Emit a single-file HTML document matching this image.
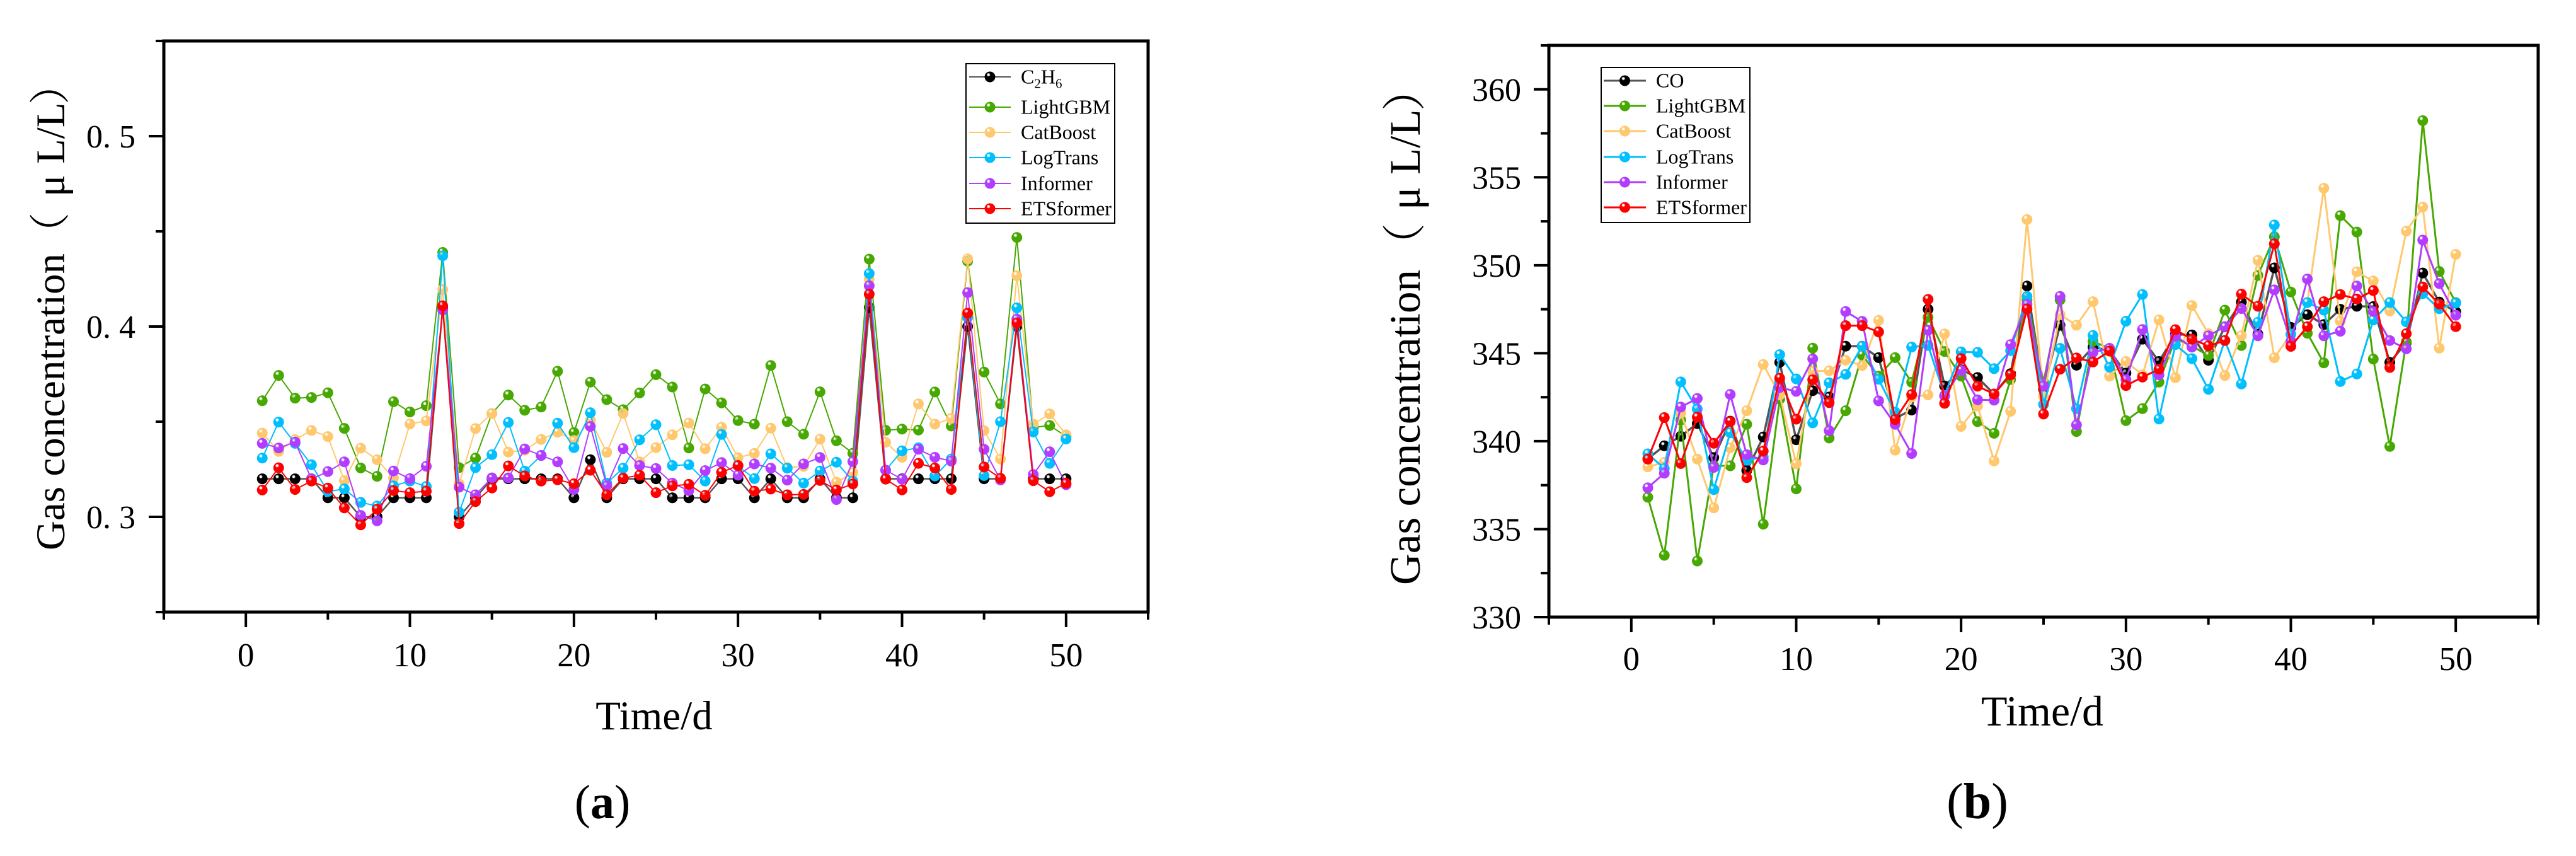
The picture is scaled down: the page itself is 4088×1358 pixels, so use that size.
<!DOCTYPE html>
<html lang="en">
<head>
<meta charset="utf-8">
<title>Gas concentration forecasts</title>
<style>
html,body{margin:0;padding:0;background:#fff;width:4088px;height:1358px;overflow:hidden}
svg{display:block;font-family:"Liberation Serif","Noto Serif CJK SC",serif}
</style>
</head>
<body>
<svg id="figure" xmlns="http://www.w3.org/2000/svg" width="4088" height="1358" viewBox="0 0 4088 1358">
<rect width="4088" height="1358" fill="#fff"/>
<defs id="defs"></defs>
</svg>
<script>
const days = [1,2,3,4,5,6,7,8,9,10,11,12,13,14,15,16,17,18,19,20,21,22,23,24,25,26,27,28,29,30,31,32,33,34,35,36,37,38,39,40,41,42,43,44,45,46,47,48,49,50];

const seriesNames = ['LightGBM','CatBoost','LogTrans','Informer','ETSformer'];

const aEthane = [.32,.32,.32,.32,.31,.31,.30,.30,.31,.31,.31,.41,.30,.31,.32,.32,.32,.32,.32,.31,.33,.31,.32,.32,.32,.31,.31,.31,.32,.32,.31,.32,.31,.31,.32,.31,.31,.41,.32,.32,.32,.32,.32,.40,.32,.32,.40,.32,.32,.32];
const aLightGBM = [.3610,.3743,.3624,.3627,.3652,.3465,.3257,.3213,.3605,.3551,.3584,.4389,.3259,.3309,.3543,.3640,.3560,.3577,.3765,.3443,.3708,.3616,.3563,.3651,.3747,.3682,.3362,.3672,.3599,.3506,.3487,.3795,.3500,.3434,.3657,.3400,.3334,.4354,.3455,.3461,.3456,.3656,.3477,.4343,.3761,.3593,.4468,.3470,.3480,.3423];
const aCatBoost = [.3440,.3344,.3406,.3454,.3422,.3190,.3361,.3300,.3204,.3488,.3504,.4194,.3173,.3464,.3543,.3340,.3350,.3407,.3445,.3401,.3508,.3339,.3543,.3289,.3364,.3431,.3493,.3358,.3471,.3311,.3333,.3466,.3259,.3265,.3408,.3182,.3232,.4249,.3392,.3313,.3593,.3487,.3517,.4355,.3453,.3304,.4267,.3487,.3541,.3431];
const aLogTrans = [.3309,.3498,.3386,.3274,.3133,.3147,.3076,.3057,.3163,.3188,.3160,.4372,.3025,.3259,.3327,.3496,.3240,.3322,.3492,.3364,.3547,.3177,.3256,.3405,.3484,.3270,.3274,.3188,.3433,.3267,.3201,.3331,.3256,.3177,.3241,.3287,.3188,.4278,.3245,.3347,.3363,.3215,.3304,.4048,.3217,.3500,.4098,.3446,.3281,.3409];
const aInformer = [.3386,.3362,.3393,.3199,.3238,.3289,.3008,.2979,.3241,.3201,.3266,.4087,.3156,.3116,.3205,.3205,.3357,.3323,.3289,.3144,.3475,.3163,.3359,.3270,.3254,.3177,.3138,.3243,.3285,.3219,.3278,.3256,.3193,.3278,.3312,.3091,.3290,.4214,.3245,.3198,.3355,.3313,.3293,.4178,.3355,.3194,.4039,.3223,.3342,.3169];
const aETSformer = [.3141,.3258,.3144,.3188,.3151,.3047,.2958,.3040,.3138,.3127,.3135,.4109,.2965,.3080,.3152,.3268,.3215,.3188,.3195,.3174,.3245,.3116,.3204,.3219,.3127,.3163,.3171,.3113,.3234,.3270,.3135,.3146,.3116,.3118,.3191,.3141,.3173,.4170,.3198,.3142,.3281,.3257,.3144,.4070,.3262,.3203,.4019,.3190,.3132,.3176];

const bCO = [339.0,339.74,340.28,341.0,339.07,341.14,338.33,340.24,344.48,340.08,342.87,342.51,345.40,345.40,344.75,341.3,341.77,347.5,343.14,344.06,343.62,342.68,343.84,348.82,342.95,346.59,344.32,345.35,345.15,343.87,345.8,344.53,346.07,346.04,344.6,346.5,347.91,346.08,349.85,346.47,347.19,346.63,347.5,347.67,347.65,344.48,345.6,349.56,347.91,347.36];
const bLightGBM = [336.81,333.51,341.2,333.19,338.6,338.6,340.96,335.28,342.39,337.29,345.29,340.18,341.73,344.9,343.7,344.75,343.35,347.05,345.1,343.7,341.11,340.45,343.5,348.03,343.36,348.03,340.55,345.67,345.28,341.17,341.85,343.36,345.83,345.4,344.87,347.45,345.44,349.42,351.62,348.48,346.13,344.45,352.82,351.89,344.67,339.7,345.65,358.22,349.65,347.88];
const bCatBoost = [338.54,338.8,341.6,338.98,336.21,339.62,341.73,344.36,342.63,338.71,343.98,344.0,344.6,344.3,346.87,339.49,342.51,342.63,346.1,340.84,342.0,338.88,341.7,352.6,342.54,347.2,346.59,347.93,343.7,344.53,343.77,346.89,343.61,347.71,346.11,343.73,346.0,350.28,344.74,346.08,347.88,354.38,346.82,349.63,349.11,347.4,351.94,353.31,345.29,350.62];
const bLogTrans = [339.28,338.45,343.37,341.83,337.25,340.48,338.92,339.1,344.92,343.54,341.04,343.32,343.8,345.4,343.52,341.65,345.35,345.44,342.6,345.08,345.05,344.12,345.15,348.23,342.09,345.28,341.85,346.01,344.21,346.82,348.34,341.26,345.49,344.69,342.95,345.73,343.25,346.76,352.29,346.08,347.88,347.45,343.39,343.82,346.89,347.88,346.78,348.39,347.53,347.85];
const bInformer = [337.35,338.18,341.94,342.43,338.51,342.66,339.23,338.93,343.05,342.83,344.68,340.6,347.37,346.81,342.29,340.96,339.3,346.31,342.57,344.03,342.35,342.33,345.49,347.78,343.13,348.23,340.92,345.05,345.28,343.5,346.35,343.77,345.97,345.35,345.99,346.51,347.54,345.99,348.6,345.68,349.22,345.99,346.25,348.82,347.37,345.72,345.25,351.43,348.96,347.16];
const bETSformer = [338.98,341.34,338.73,341.37,339.88,341.11,337.93,339.44,343.58,341.25,343.49,342.19,346.57,346.57,346.21,341.23,342.65,348.06,342.15,344.7,343.13,342.68,343.77,347.52,341.54,344.09,344.73,344.5,345.12,343.16,343.64,344.09,346.34,345.79,345.42,345.72,348.36,347.67,351.22,345.39,346.51,347.93,348.34,348.08,348.56,344.19,346.11,348.77,347.79,346.51];

const xMajorTicks = [0,10,20,30,40,50];
const xMinorTicks = [-5,5,15,25,35,45,55];
const aYMajorTicks = [0.3,0.4,0.5];
const aYMinorTicks = [0.25,0.35,0.45,0.55];
const aYTickLabels = ['0. 3','0. 4','0. 5'];
const bYMajorTicks = [330,335,340,345,350,355,360];
const bYMinorTicks = [332.5,337.5,342.5,347.5,352.5,357.5,362.5];
const bYTickLabels = ['330','335','340','345','350','355','360'];

const SVGNS = 'http://www.w3.org/2000/svg';
const root = document.getElementById('figure');
const defs = document.getElementById('defs');

const palette = [
  {key:'black', fill:'#000000', line:'#555555'},
  {key:'green', fill:'#46A800', line:'#46A800'},
  {key:'orange', fill:'#FFC86E', line:'#FFC86E'},
  {key:'cyan', fill:'#00BFFF', line:'#00BFFF'},
  {key:'purple', fill:'#B23CFF', line:'#B23CFF'},
  {key:'red', fill:'#FF0000', line:'#FF0000'}
];

function make(tag, parent, props, text) {
  const el = document.createElementNS(SVGNS, tag);
  for (const k in props) el.setAttribute(k, props[k]);
  if (text !== undefined) el.textContent = text;
  parent.appendChild(el);
  return el;
}

palette.forEach(function (c) {
  const g = make('radialGradient', defs, {id: 'ball-' + c.key, cx: '0.38', cy: '0.32', r: '0.68', fx: '0.36', fy: '0.3'});
  make('stop', g, {offset: '0', 'stop-color': '#ffffff', 'stop-opacity': c.key === 'black' ? '0.6' : '0.8'});
  make('stop', g, {offset: '0.1', 'stop-color': '#ffffff', 'stop-opacity': c.key === 'black' ? '0.3' : '0.4'});
  make('stop', g, {offset: '0.26', 'stop-color': c.fill});
  make('stop', g, {offset: '1', 'stop-color': c.fill});
});

function drawChart(cfg) {
  const group = make('g', root, {});
  
  

  const xScale = function (v) { return cfg.x0 + (v - (-5)) * (cfg.x1 - cfg.x0) / 60; };
  const yScale = function (v) { return cfg.y0 - (v - cfg.yMin) * (cfg.y0 - cfg.y1) / (cfg.yMax - cfg.yMin); };

  cfg.series.forEach(function (vals, si) {
    const c = palette[si];
    const pts = days.map(function (d, i) { return xScale(d).toFixed(1) + ',' + yScale(vals[i]).toFixed(1); }).join(' ');
    const line = make('polyline', group, {points: pts, fill: 'none', stroke: c.line, 'stroke-width': cfg.lineWidth + (si === 0 ? 0.5 : 0), 'stroke-linejoin': 'miter'});
    
    
    days.forEach(function (d, i) {
      const dot = make('circle', group, {cx: xScale(d).toFixed(1), cy: yScale(vals[i]).toFixed(1), r: 8.5, fill: 'url(#ball-' + c.key + ')'});
      
      
    });
  });

  const frame = make('rect', group, {x: cfg.x0, y: cfg.y1, width: cfg.x1 - cfg.x0, height: cfg.y0 - cfg.y1, fill: 'none', stroke: '#000', 'stroke-width': 5});
  
  

  xMajorTicks.forEach(function (t) {
    const tick = make('line', group, {x1: xScale(t), x2: xScale(t), y1: cfg.y0, y2: cfg.y0 + 24, stroke: '#000', 'stroke-width': 4});
    
    
    const label = make('text', group, {x: xScale(t), y: cfg.xLabelY, 'text-anchor': 'middle', 'font-size': 53, fill: '#000'}, String(t));
    
    
  });
  xMinorTicks.forEach(function (t) {
    const tick = make('line', group, {x1: xScale(t), x2: xScale(t), y1: cfg.y0, y2: cfg.y0 + 12, stroke: '#000', 'stroke-width': 4});
    
    
  });
  cfg.yMajor.forEach(function (t, i) {
    const tick = make('line', group, {x1: cfg.x0 - 24, x2: cfg.x0, y1: yScale(t), y2: yScale(t), stroke: '#000', 'stroke-width': 4});
    
    
    const label = make('text', group, {x: cfg.yLabelX, y: yScale(t) + 18, 'text-anchor': 'end', 'font-size': 52, fill: '#000', 'xml:space': 'preserve'}, cfg.yLabels[i]);
    
    
  });
  cfg.yMinor.forEach(function (t) {
    const tick = make('line', group, {x1: cfg.x0 - 13, x2: cfg.x0, y1: yScale(t), y2: yScale(t), stroke: '#000', 'stroke-width': 4});
    
    
  });

  const xTitle = make('text', group, {x: cfg.xTitleX, y: cfg.xTitleY, 'text-anchor': 'middle', 'font-size': cfg.xTitleSize, fill: '#000'}, 'Time/d');
  
  

  const yTitle = make('text', group, {transform: 'translate(' + cfg.yt.x + ',' + cfg.yt.y + ') rotate(-90)', 'font-size': cfg.yt.size, fill: '#000'});
  
  
  make('tspan', yTitle, {x: 0, y: 0}, 'Gas concentration');
  make('tspan', yTitle, {x: cfg.yt.open, y: 0, 'font-family': '"Noto Serif CJK SC",serif'}, '（');
  make('tspan', yTitle, {x: cfg.yt.mu, y: 0}, 'μ');
  make('tspan', yTitle, {x: cfg.yt.ll, y: 0}, 'L/L');
  make('tspan', yTitle, {x: cfg.yt.close, y: 0, 'font-family': '"Noto Serif CJK SC",serif'}, '）');

  const lg = cfg.legend;
  const legend = make('g', group, {});
  
  
  const box = make('rect', legend, {x: lg.x, y: lg.y, width: lg.w, height: lg.h, fill: '#fff', stroke: '#000', 'stroke-width': 2});
  
  
  cfg.names.forEach(function (name, i) {
    const c = palette[i];
    const ry = lg.rows[i];
    const key = make('line', legend, {x1: lg.lineX0, x2: lg.lineX1, y1: ry, y2: ry, stroke: c.line, 'stroke-width': cfg.lineWidth});
    
    
    const dot = make('circle', legend, {cx: (lg.lineX0 + lg.lineX1) / 2, cy: ry, r: 8.5, fill: 'url(#ball-' + c.key + ')'});
    
    
    const label = make('text', legend, {x: lg.textX, y: ry + 10.5, 'font-size': 32, fill: '#000'});
    
    
    if (name === 'C2H6') {
      make('tspan', label, {}, 'C');
      make('tspan', label, {dy: 7, 'font-size': 21}, '2');
      make('tspan', label, {dy: -7}, 'H');
      make('tspan', label, {dy: 7, 'font-size': 21}, '6');
    } else {
      label.textContent = name;
    }
  });

  const panel = make('text', group, {x: cfg.panelX, y: 1298, 'text-anchor': 'middle', 'font-size': cfg.panelSize, fill: '#000'});
  
  
  make('tspan', panel, {}, '(');
  make('tspan', panel, {'font-weight': 'bold'}, cfg.panel);
  make('tspan', panel, {}, ')');
}

drawChart({
  id: 'chart-a-c2h6',
  x0: 260, x1: 1822, y0: 971, y1: 65, yMin: 0.25, yMax: 0.55,
  series: [aEthane, aLightGBM, aCatBoost, aLogTrans, aInformer, aETSformer],
  names: ['C2H6'].concat(seriesNames),
  yMajor: aYMajorTicks, yMinor: aYMinorTicks, yLabels: aYTickLabels,
  yLabelX: 215, xLabelY: 1057, lineWidth: 2,
  xTitleX: 1038, xTitleY: 1157, xTitleSize: 65,
  yt: {x: 102, y: 873, size: 65, open: 471, mu: 561, ll: 613, close: 707},
  legend: {x: 1533, y: 101, w: 236, h: 253, rows: [122, 170, 210, 250, 291, 331], lineX0: 1538, lineX1: 1604, textX: 1620},
  panel: 'a', panelX: 956, panelSize: 76
});

drawChart({
  id: 'chart-b-co',
  x0: 2458, x1: 4028, y0: 979, y1: 72, yMin: 330, yMax: 362.5,
  series: [bCO, bLightGBM, bCatBoost, bLogTrans, bInformer, bETSformer],
  names: ['CO'].concat(seriesNames),
  yMajor: bYMajorTicks, yMinor: bYMinorTicks, yLabels: bYTickLabels,
  yLabelX: 2414, xLabelY: 1063, lineWidth: 3,
  xTitleX: 3241, xTitleY: 1151, xTitleSize: 68,
  yt: {x: 2253, y: 928, size: 69, open: 505, mu: 595, ll: 651, close: 752},
  legend: {x: 2541, y: 107, w: 236, h: 246, rows: [128, 168, 208, 249, 289, 329], lineX0: 2545, lineX1: 2612, textX: 2628},
  panel: 'b', panelX: 3138, panelSize: 80
});
</script>
</body>
</html>
